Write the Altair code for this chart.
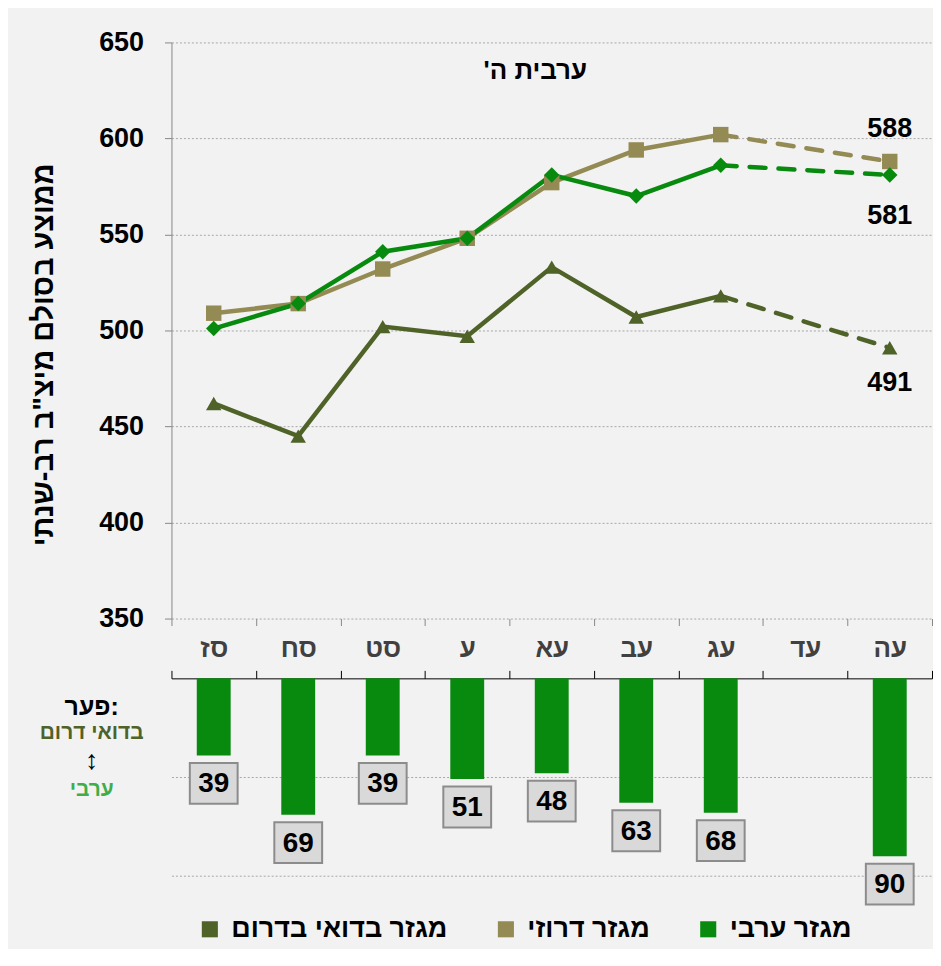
import altair as alt
import pandas as pd

# ---------------- data ----------------
years = ["סז", "סח", "סט", "ע", "עא", "עב", "עג", "עד", "עה"]
arab_scores = [501, 514, 541, 548, 581, 570, 586, None, 581]
druze_scores = [509, 514, 532, 548, 577, 594, 602, None, 588]
bedouin_scores = [462, 445, 502, 497, 533, 507, 518, None, 491]
gap_values = [39, 69, 39, 51, 48, 63, 68, None, 90]

series_names = ["מגזר בדואי בדרום", "מגזר דרוזי", "מגזר ערבי"]
series_colors = ["#4F6228", "#948A54", "#088A0F"]
series_shapes = ["triangle-up", "square", "diamond"]

chart_title = "ערבית ה'\u200f"
y_title = 'ממוצע בסולם מיצ"ב רב-שנתי'
gap_caption = ["פער:", "בדואי דרום", "↕", "ערבי"]
y_ticks = [350, 400, 450, 500, 550, 600, 650]

FONT = "Liberation Sans, Arial, DejaVu Sans"

rows = []
for name, vals in zip(series_names, [bedouin_scores, druze_scores, arab_scores]):
    for i, (yr, v) in enumerate(zip(years, vals)):
        if v is None:
            continue
        rows.append({"year": yr, "series": name, "score": v, "idx": i})
df = pd.DataFrame(rows)

bdf = pd.DataFrame({
    "year": [y for y, g in zip(years, gap_values) if g is not None],
    "gap": [g for g in gap_values if g is not None],
})

# ---------------- top: line chart ----------------
x_scale = alt.Scale(type="band", domain=years, paddingInner=0, paddingOuter=0)
x_top = alt.X(
    "year:N", bandPosition=0.5, scale=x_scale,
    axis=alt.Axis(title=None, tickBand="extent", labelFontSize=26, labelFontWeight="bold",
                  labelColor="#404040", labelPadding=10, tickSize=7, tickColor="#888888",
                  domain=False, grid=False, labelAngle=0, labelFont=FONT),
)
y_top = alt.Y(
    "score:Q", scale=alt.Scale(domain=[350, 650], nice=False, zero=False),
    axis=alt.Axis(values=y_ticks, title=y_title, titleFontSize=29, titleFontWeight="bold",
                  titlePadding=40, titleColor="black", titleFont=FONT, titleY=313,
                  labelFontSize=27, labelFontWeight="bold", labelColor="black", labelFont=FONT,
                  labelPadding=21, tickSize=7, tickColor="#888888", domainColor="#888888",
                  gridColor="#a8a8a8", gridDash=[2, 2]),
)
color_enc = alt.Color("series:N", scale=alt.Scale(domain=series_names, range=series_colors), legend=None)
shape_enc = alt.Shape("series:N", scale=alt.Scale(domain=series_names, range=series_shapes), legend=None)

base = alt.Chart(df).encode(x=x_top, y=y_top, color=color_enc)
solid = base.transform_filter("datum.idx <= 6").mark_line(strokeWidth=4.5)
dashed = base.transform_filter("datum.idx >= 6").mark_line(strokeWidth=4.5, strokeDash=[16, 13], strokeCap="round")
points = base.mark_point(filled=True, size=240, opacity=1).encode(shape=shape_enc)

end_offsets = {series_names[0]: 35, series_names[1]: -33, series_names[2]: 41}
end_labels = []
for name, off in end_offsets.items():
    end_labels.append(
        alt.Chart(df).transform_filter(f"datum.idx == 8 && datum.series == '{name}'")
        .mark_text(fontSize=27, fontWeight="bold", color="black", dy=off, font=FONT)
        .encode(x=x_top, y=y_top, text="score:Q")
    )

title_layer = alt.Chart(pd.DataFrame({"t": [chart_title]})).mark_text(
    fontSize=26, fontWeight="bold", color="black", font=FONT
).encode(text="t:N", x=alt.value(365), y=alt.value(29))

top = alt.layer(solid, dashed, points, *end_labels, title_layer).properties(width=763, height=578)

# ---------------- bottom: gap bars ----------------
x_bot_axis = alt.Axis(orient="top", title=None, labels=False, tickBand="extent", tickSize=8,
                      tickColor="black", domainColor="black", grid=False)
y_bot = alt.Y("gap:Q", scale=alt.Scale(domain=[0, 112], reverse=True, nice=False),
              axis=alt.Axis(title=None, labels=False, ticks=False, domain=False, values=[50, 100],
                            gridColor="#a8a8a8", gridDash=[2, 2]))

bars = alt.Chart(bdf).mark_bar(size=34, color="#088A0F").encode(
    x=alt.X("year:N", scale=x_scale, axis=x_bot_axis), y=y_bot)
boxes = alt.Chart(bdf).mark_point(
    shape="M-0.585,-0.5H0.585V0.5H-0.585Z", size=6724, filled=True, fill="#d9d9d9",
    stroke="#8c8c8c", strokeWidth=2, opacity=1, yOffset=28
).encode(x=alt.X("year:N", bandPosition=0.5, scale=x_scale, axis=x_bot_axis), y=y_bot)
box_text = alt.Chart(bdf).mark_text(
    fontSize=28, fontWeight="bold", color="black", dy=29, baseline="middle", font=FONT
).encode(x=alt.X("year:N", bandPosition=0.5, scale=x_scale, axis=x_bot_axis), y=y_bot, text="gap:Q")

cap_styles = [(25, "black", 29), (21, "#4F6228", 55), (27, "black", 83), (21, "#3FAE49", 112)]
captions = []
for txt, (fs, col, yy) in zip(gap_caption, cap_styles):
    captions.append(
        alt.Chart(pd.DataFrame({"t": [txt]})).mark_text(
            fontSize=fs, fontWeight="bold", color=col, baseline="middle", font=FONT
        ).encode(text="t:N", x=alt.value(-80), y=alt.value(yy))
    )

legend_layer = alt.Chart(pd.DataFrame({"series": series_names})).mark_point(
    shape="square", filled=True, opacity=0
).encode(
    color=alt.Color("series:N", scale=alt.Scale(domain=series_names, range=series_colors),
                    legend=alt.Legend(orient="none", legendX=25, legendY=238, direction="horizontal",
                                      title=None, symbolType="square", symbolSize=260, symbolOpacity=1,
                                      symbolStrokeWidth=0, labelFontSize=27, labelFontWeight="bold",
                                      labelFont=FONT, labelColor="black", labelLimit=400,
                                      columnPadding=45, labelOffset=8))
)

bottom = alt.layer(bars, boxes, box_text, *captions, legend_layer).properties(width=763, height=222)

chart = alt.vconcat(top, bottom, spacing=8).resolve_scale(
    x="independent", y="independent", color="independent", shape="independent"
).resolve_legend(color="independent").configure(
    background="#f2f2f2", padding={"left": 21, "top": 19, "right": 0, "bottom": 5}
).configure_view(stroke=None)

chart.save("out.html", embed_options={"renderer": "svg", "actions": False})
